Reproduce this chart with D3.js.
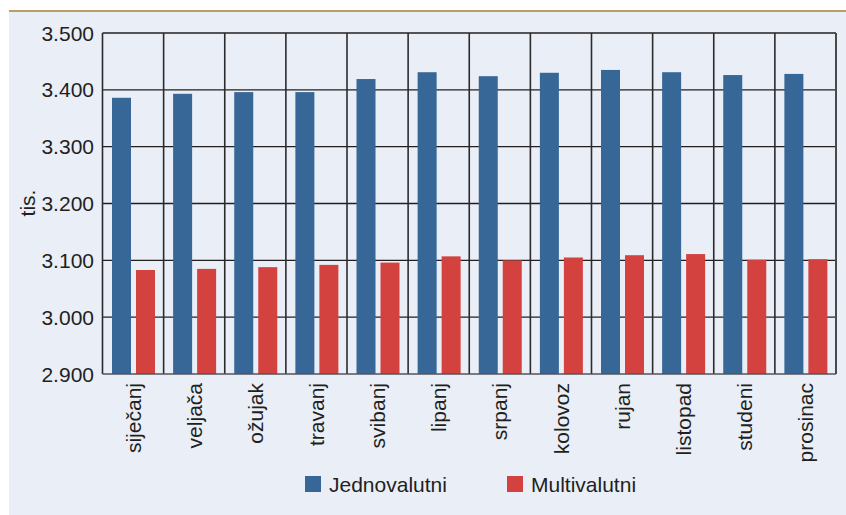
<!DOCTYPE html>
<html>
<head>
<meta charset="utf-8">
<script src="https://cdn.jsdelivr.net/npm/d3@7"></script>
<style>
  body { margin: 0; background: #fff; }
  svg text { font-family: "Liberation Sans", Arial, sans-serif; fill: #231f20; }
</style>
</head>
<body>
<div id="chart"></div>
<script>
(function chart() {
// monthly counts, thousands
var months = ["siječanj", "veljača", "ožujak", "travanj", "svibanj", "lipanj",
              "srpanj", "kolovoz", "rujan", "listopad", "studeni", "prosinac"];
var jednovalutni = [3386, 3393, 3396, 3396, 3419, 3431, 3424, 3430, 3435, 3431, 3426, 3428];
var multivalutni = [3083, 3085, 3088, 3092, 3096, 3107, 3100, 3105, 3109, 3111, 3101, 3102];
var seriesNames = ["Jednovalutni", "Multivalutni"];
var yTicks = [2900, 3000, 3100, 3200, 3300, 3400, 3500];

var width = 846, height = 515;
var colors = ["#376796", "#d3423f"];

var hr = d3.formatLocale({decimal: ",", thousands: ".", grouping: [3], currency: ["", ""]});
var fmt = hr.format(",d");

var svg = d3.select("#chart").append("svg")
    .attr("width", width)
    .attr("height", height);

// background panel + top rule
svg.append("rect")
    .attr("x", 9).attr("y", 11)
    .attr("width", width - 9).attr("height", height - 11)
    .style("fill", "#e9eef7");
svg.append("rect")
    .attr("x", 9).attr("y", 10)
    .attr("width", width - 9).attr("height", 2)
    .style("fill", "#bd9d62");

var plotL = 102.5, plotR = 836, plotT = 33, plotB = 374;

var x = d3.scaleBand().domain(months).range([plotL, plotR]);
var x1 = d3.scaleBand().domain(seriesNames)
    .range([9.5, 52.5]).paddingInner(5 / 24);
var y = d3.scaleLinear().domain([2900, 3500]).range([plotB, plotT]);

// horizontal grid
svg.selectAll(".hgrid")
    .data(yTicks.slice(1))
    .enter().append("line")
    .attr("x1", plotL).attr("x2", plotR)
    .attr("y1", function(d) { return y(d); })
    .attr("y2", function(d) { return y(d); })
    .style("stroke", "#231f20")
    .style("stroke-width", 1.4);

// vertical grid at category boundaries
var bounds = months.map(function(m) { return x(m); }).concat([plotR]);
svg.selectAll(".vgrid")
    .data(bounds)
    .enter().append("line")
    .attr("x1", function(d) { return d; })
    .attr("x2", function(d) { return d; })
    .attr("y1", plotT).attr("y2", plotB)
    .style("stroke", function(d, i) { return i == bounds.length - 1 ? "#4a4a4d" : "#2b2b2d"; })
    .style("stroke-width", function(d, i) { return i == bounds.length - 1 ? 2 : 1.6; });

// bars
var series = [jednovalutni, multivalutni];
series.forEach(function(vals, s) {
  svg.selectAll(".bar" + s)
      .data(vals)
      .enter().append("rect")
      .attr("x", function(d, i) { return x(months[i]) + x1(seriesNames[s]); })
      .attr("y", function(d) { return y(d); })
      .attr("width", x1.bandwidth())
      .attr("height", function(d) { return plotB - y(d); })
      .style("fill", colors[s]);
});

// bottom axis line
svg.append("line")
    .attr("x1", plotL).attr("x2", plotR)
    .attr("y1", plotB).attr("y2", plotB)
    .style("stroke", "#555558")
    .style("stroke-width", 1.6);

// y tick labels
svg.selectAll(".ytick")
    .data(yTicks)
    .enter().append("text")
    .attr("x", 94)
    .attr("y", function(d) { return y(d); })
    .attr("dy", "0.36em")
    .attr("text-anchor", "end")
    .style("font-size", "21px")
    .text(function(d) { return fmt(d); });

svg.append("text")
    .attr("transform", "translate(27,203) rotate(-90)")
    .attr("text-anchor", "middle")
    .attr("dy", "0.36em")
    .style("font-size", "21px")
    .text("tis.");

// month labels
svg.selectAll(".xlab")
    .data(months)
    .enter().append("text")
    .attr("transform", function(d) {
      return "translate(" + (x(d) + x.bandwidth() / 2) + ",383) rotate(-90)";
    })
    .attr("text-anchor", "end")
    .attr("dy", "0.36em")
    .style("font-size", "21px")
    .text(function(d) { return d; });

// legend
var legendX = [305, 507];
seriesNames.forEach(function(name, i) {
  svg.append("rect")
      .attr("x", legendX[i]).attr("y", 476)
      .attr("width", 16).attr("height", 16)
      .style("fill", colors[i]);
  svg.append("text")
      .attr("x", legendX[i] + 24).attr("y", 492)
      .style("font-size", "21px")
      .text(name);
});
}());
</script>
</body>
</html>
